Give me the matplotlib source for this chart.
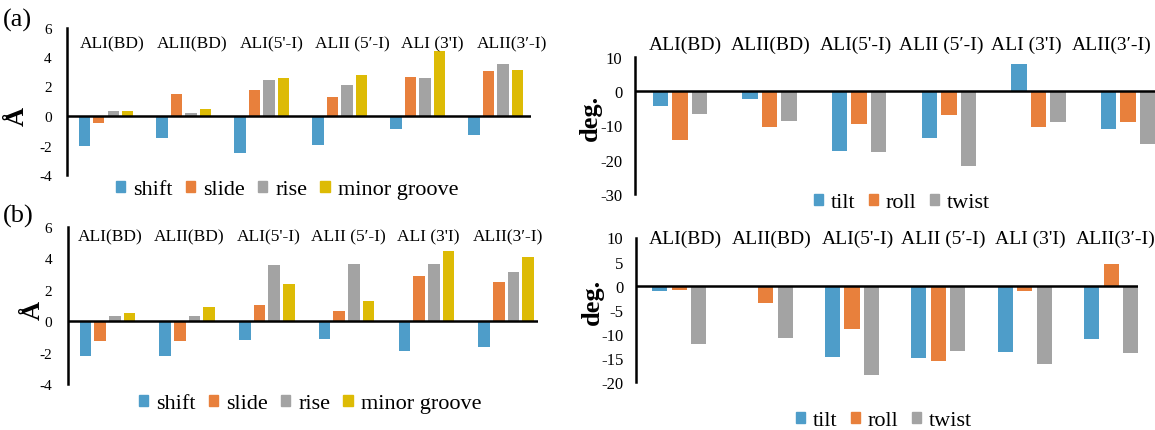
import numpy as np
import matplotlib.pyplot as plt
from matplotlib.patches import Patch

plt.rcParams['font.family'] = ['Liberation Serif', 'DejaVu Serif']
plt.rcParams['axes.unicode_minus'] = False

sites = ['ALI(BD)', 'ALII(BD)', "ALI(5'-I)", "ALII (5\u2032-I)", "ALI (3'I)", "ALII(3\u2032-I)"]

# (a) translational parameters, Å
shift_a = [-2.0, -1.48, -2.5, -1.95, -0.86, -1.3]
slide_a = [-0.45, 1.48, 1.75, 1.3, 2.66, 3.05]
rise_a = [0.32, 0.18, 2.41, 2.07, 2.57, 3.5]
groove_a = [0.36, 0.5, 2.61, 2.8, 4.41, 3.11]
# (a) rotational parameters, deg.
tilt_a = [-4.3, -2.2, -17.3, -13.7, 7.9, -11.0]
roll_a = [-14.2, -10.5, -9.6, -6.9, -10.4, -9.0]
twist_a = [-6.6, -8.8, -17.7, -21.7, -8.9, -15.4]

# (b) translational parameters, Å
shift_b = [-2.2, -2.2, -1.2, -1.11, -1.88, -1.67]
slide_b = [-1.28, -1.28, 1.05, 0.68, 2.88, 2.48]
rise_b = [0.36, 0.3, 3.57, 3.63, 3.63, 3.14]
groove_b = [0.53, 0.92, 2.37, 1.26, 4.47, 4.08]
# (b) rotational parameters, deg.
tilt_b = [-1.2, 0.0, -14.8, -15.1, -13.7, -11.1]
roll_b = [-1.0, -3.6, -9.1, -15.7, -1.2, 4.6]
twist_b = [-12.1, -10.9, -18.5, -13.6, -16.2, -14.0]

trans_names = ['shift', 'slide', 'rise', 'minor groove']
rot_names = ['tilt', 'roll', 'twist']
trans_colors = ['#4E9DC9', '#E8803C', '#A3A3A3', '#DDBB05']
rot_colors = trans_colors[:3]

W, H = 1155, 431
fig = plt.figure(figsize=(W / 100, H / 100), dpi=100)


def rect(left, top, right, bottom):
    return [left / W, 1 - bottom / H, (right - left) / W, (bottom - top) / H]


def panel(box, series, names, colors, xlim, ylim, yticks, step, width,
          lab_pos, label_y, cat_size, tick_size, tick_pad,
          leg_xy, ylabel, ylab_xy):
    ax = fig.add_axes(rect(*box))
    x = np.arange(len(sites))
    n = len(series)
    for k, vals in enumerate(series):
        ax.bar(x + (k - (n - 1) / 2) * step, vals, width, color=colors[k], zorder=2)
    ax.set_xlim(xlim)
    ax.set_ylim(ylim)
    ax.set_yticks(yticks)
    ax.set_xticks([])
    for s in ['top', 'right', 'bottom']:
        ax.spines[s].set_visible(False)
    ax.spines['left'].set_linewidth(1.8)
    ax.axhline(0, color='black', lw=1.8, zorder=3)
    ax.tick_params(axis='y', length=0, pad=tick_pad, labelsize=tick_size)
    # site names sit in a row above the bars
    a, b = lab_pos
    for i, s in enumerate(sites):
        ax.text(a + b * i, label_y, s, ha='center', va='center', fontsize=cat_size,
                clip_on=False)
    handles = [Patch(color=c, label=nm) for c, nm in zip(colors, names)]
    fig.legend(handles=handles, loc='center', ncol=n, frameon=False,
               bbox_to_anchor=(leg_xy[0] / W, 1 - leg_xy[1] / H),
               prop={'family': 'Liberation Serif', 'size': 16},
               handlelength=0.42, handleheight=0.42,
               handletextpad=0.35, columnspacing=0.6, borderpad=0)
    fig.text(ylab_xy[0] / W, 1 - ylab_xy[1] / H, ylabel, rotation=90,
             ha='center', va='center', fontsize=19, fontweight='bold')
    return ax


panel((67, 28.5, 531, 176), [shift_a, slide_a, rise_a, groove_a], trans_names,
      trans_colors, (-0.5, 5.45), (-4, 6), range(-4, 7, 2), 0.186, 0.147,
      (0.077, 1.027), 4.95, 12.5, 11, 11, (287, 191), 'Å', (17, 116))
panel((635, 58, 1173, 195), [tilt_a, roll_a, twist_a], rot_names,
      rot_colors, (-0.5, 5.5), (-30, 10), range(-30, 11, 10), 0.218, 0.173,
      (0.06, 0.952), 13.7, 14, 12, 9, (902, 204), 'deg.', (590, 118))
panel((67.5, 228, 538, 385), [shift_b, slide_b, rise_b, groove_b], trans_names,
      trans_colors, (-0.5, 5.4), (-4, 6), range(-4, 7, 2), 0.184, 0.146,
      (0.03, 0.998), 5.38, 12.5, 11, 11, (310, 405), 'Å', (33, 310))
panel((636, 238.5, 1138, 383), [tilt_b, roll_b, twist_b], rot_names,
      rot_colors, (-0.5, 5.31), (-20, 10), range(-20, 11, 5), 0.226, 0.174,
      (0.07, 0.997), 9.9, 14, 12, 9, (884, 422), 'deg.', (592, 302))

fig.text(3 / W, 1 - 20 / H, '(a)', fontsize=19, ha='left', va='center')
fig.text(3 / W, 1 - 216 / H, '(b)', fontsize=19, ha='left', va='center')

fig.savefig('out.png', dpi=100)
